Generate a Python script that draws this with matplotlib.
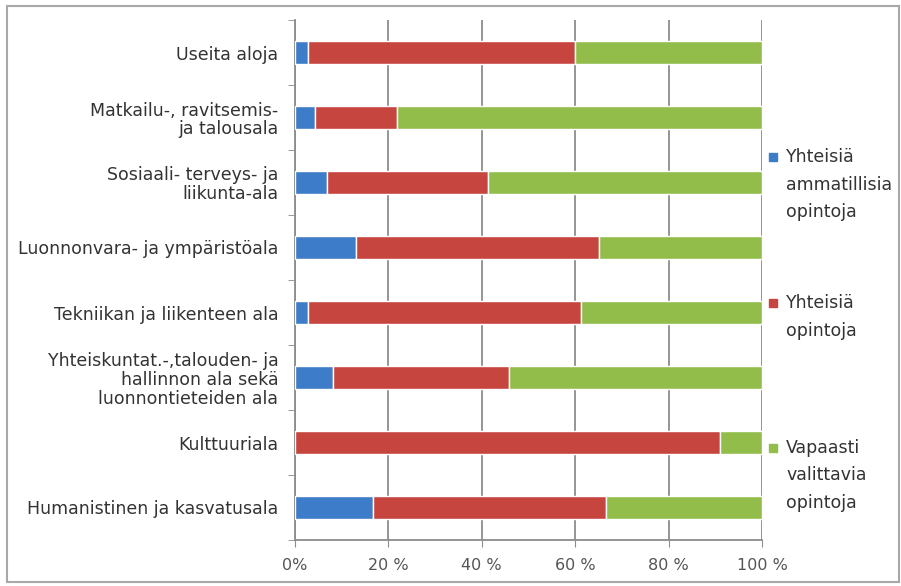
import matplotlib
matplotlib.use("Agg")
import matplotlib.pyplot as plt
from matplotlib.patches import Rectangle
import numpy as np

# categories listed bottom -> top (barh draws first at the bottom)
categories = [
    "Humanistinen ja kasvatusala",
    "Kulttuuriala",
    "Yhteiskuntat.-,talouden- ja\nhallinnon ala sekä\nluonnontieteiden ala",
    "Tekniikan ja liikenteen ala",
    "Luonnonvara- ja ympäristöala",
    "Sosiaali- terveys- ja\nliikunta-ala",
    "Matkailu-, ravitsemis-\nja talousala",
    "Useita aloja",
]
ammatilliset = [16.8, 0.0, 8.2, 2.8, 13.1, 6.9, 4.3, 2.8]
yhteiset = [49.9, 91.0, 37.6, 58.4, 52.1, 34.4, 17.5, 57.2]
vapaat = [33.3, 9.0, 54.2, 38.8, 34.8, 58.7, 78.2, 40.0]

series = [
    ("Yhteisiä\nammatillisia\nopintoja", ammatilliset, "#3d7cc9"),
    ("Yhteisiä\nopintoja", yhteiset, "#c6453f"),
    ("Vapaasti\nvalittavia\nopintoja", vapaat, "#93bd4b"),
]
xticks = [0, 20, 40, 60, 80, 100]
xticklabels = ["0%", "20 %", "40 %", "60 %", "80 %", "100 %"]

plt.rcParams["font.family"] = ["DejaVu Sans"]
GRID = "#8c8c8c"
TXT = "#333333"

fig = plt.figure(figsize=(9.01, 5.86), dpi=100)
ax = fig.add_axes([295 / 901, 46 / 586, 467 / 901, 520 / 586])

y = np.arange(len(categories))
left = np.zeros(len(categories))
for name, vals, col in series:
    ax.barh(y, vals, left=left, height=0.36, color=col, edgecolor="white",
            linewidth=1.0, zorder=3)
    left += np.array(vals)

ax.set_xlim(0, 100)
ax.set_ylim(-0.5, len(categories) - 0.5)
ax.set_xticks(xticks, xticklabels)
ax.xaxis.grid(True, color=GRID, lw=1.3, zorder=0)
ax.tick_params(axis="x", length=5, color=GRID, labelsize=11.5, labelcolor="#555555", pad=8)

ax.set_yticks(y, categories)
ax.set_yticks(np.arange(len(categories) + 1) - 0.5, minor=True)
ax.tick_params(axis="y", which="major", length=0, pad=12, labelsize=12.5, labelcolor=TXT)
ax.tick_params(axis="y", which="minor", length=5, color=GRID)
for lab in ax.get_yticklabels():
    lab.set_linespacing(1.05)

for s in ["top", "right"]:
    ax.spines[s].set_visible(False)
for s in ["left", "bottom"]:
    ax.spines[s].set_color(GRID)
    ax.spines[s].set_linewidth(1.3)

# legend, spread down the right side
leg_top = [157, 303, 448]
for (name, vals, col), ytop in zip(series, leg_top):
    fig.patches.append(Rectangle((769 / 901, 1 - (ytop + 4) / 586), 8 / 901, 8 / 586,
                                 transform=fig.transFigure, color=col))
    for i, line in enumerate(name.split("\n")):
        fig.text(786 / 901, 1 - (ytop + i * 27.5) / 586, line, fontsize=12.5,
                 color=TXT, va="center", ha="left")

# outer frame
fig.patches.append(Rectangle((7 / 901, 4 / 586), 892 / 901, 576 / 586,
                             transform=fig.transFigure, fill=False,
                             edgecolor="#a8a8a8", lw=1.5))

fig.savefig("out.png", dpi=100, facecolor="white")
